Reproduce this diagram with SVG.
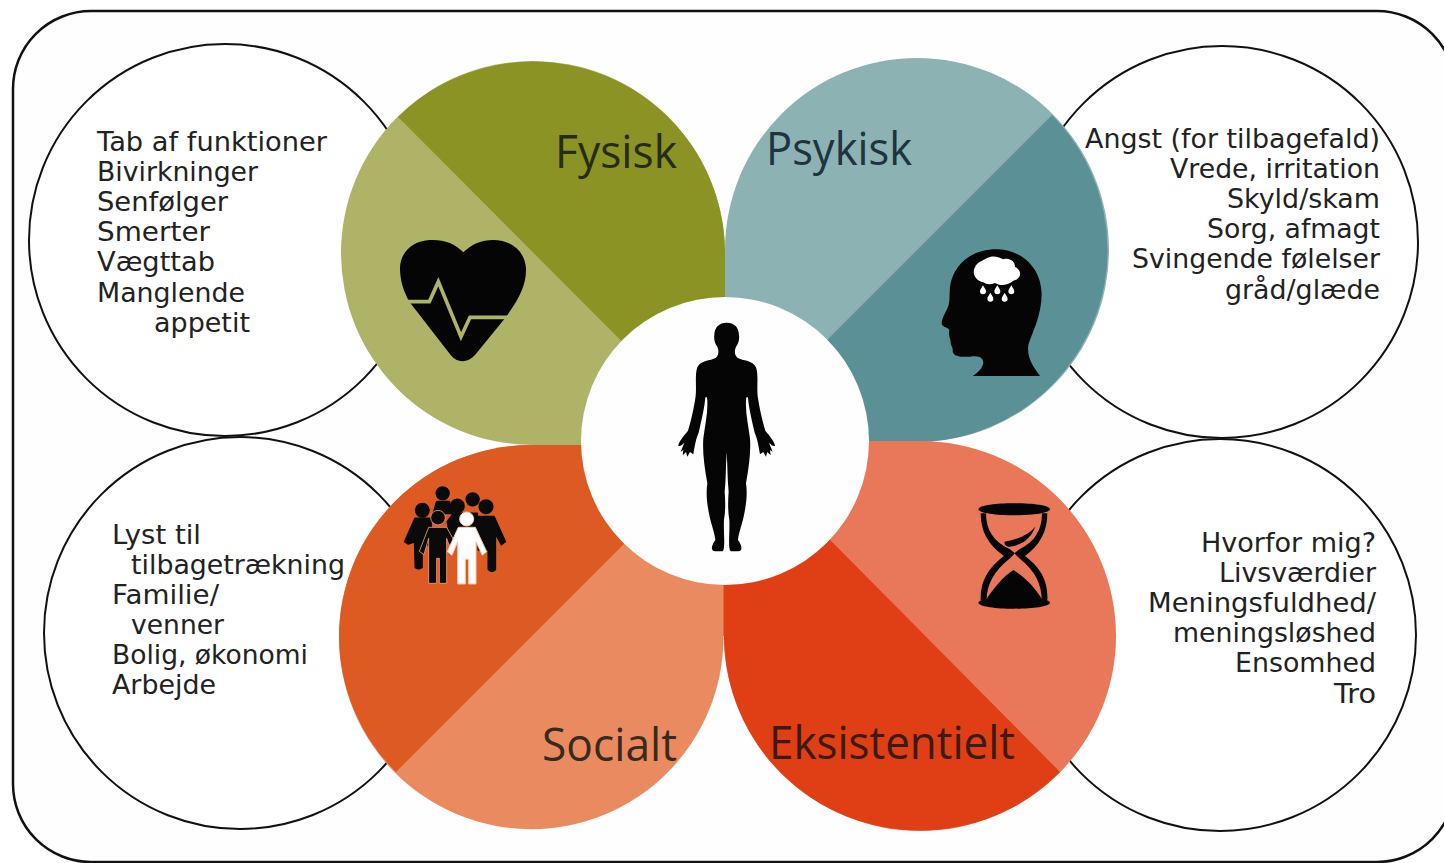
<svg xmlns="http://www.w3.org/2000/svg" xmlns:xlink="http://www.w3.org/1999/xlink" width="1444" height="863" viewBox="0 0 1444 863">
<style>
.t{font-family:"DejaVu Sans","Liberation Sans",sans-serif;font-size:27px;fill:#222}
.e{text-anchor:end}
.h{font-family:"Open Sans","Liberation Sans",sans-serif;font-size:45px}
.o{fill:#fff;stroke:#111;stroke-width:2}
</style>
<defs>
<path id="half" d="M201 38C176 38 164 52 163 75C161 88 165 102 172 110C177 122 177 135 168 143C150 153 122 150 112 172C104 195 110 230 107 258C101 300 92 335 84 362C74 375 55 395 55 408C62 410 68 402 73 398L62 425L70 420L68 436L78 426L82 440L90 426L100 433C104 410 108 385 116 368C126 325 134 290 136 262L141 262C146 300 135 345 130 385C127 425 133 470 142 520C138 545 140 575 146 605C152 640 165 670 166 690C155 705 150 722 165 724H188C197 715 190 665 192 630C197 600 196 570 194 545C198 510 197 470 200 430L201 430Z"/>
<path id="drop" d="M0 0c-6 10-9 14-9 18a9 9 0 0 0 18 0c0-4-3-8-9-18Z"/>
</defs>
<rect width="1444" height="863" fill="#fff"/>
<rect x="13" y="11" width="1442" height="851" rx="78" fill="#fefefe" stroke="#111" stroke-width="2.5"/>
<g id="connectors"></g>
<g id="circle-tl"><circle class="o" cx="225" cy="240" r="196"/>
<text class="t" x="97" y="151" textLength="230" lengthAdjust="spacingAndGlyphs">Tab af funktioner</text><text class="t" x="97" y="181" textLength="161" lengthAdjust="spacingAndGlyphs">Bivirkninger</text><text class="t" x="97" y="211" textLength="131" lengthAdjust="spacingAndGlyphs">Senfølger</text><text class="t" x="97" y="241" textLength="113" lengthAdjust="spacingAndGlyphs">Smerter</text><text class="t" x="97" y="271" textLength="118" lengthAdjust="spacingAndGlyphs">Vægttab</text><text class="t" x="97" y="302" textLength="148" lengthAdjust="spacingAndGlyphs">Manglende</text><text class="t" x="154" y="332" textLength="96" lengthAdjust="spacingAndGlyphs">appetit</text></g>
<g id="circle-tr"><circle class="o" cx="1222" cy="242" r="196"/>
<text class="t e" x="1380" y="148" textLength="295" lengthAdjust="spacingAndGlyphs">Angst (for tilbagefald)</text><text class="t e" x="1380" y="178" textLength="210" lengthAdjust="spacingAndGlyphs">Vrede, irritation</text><text class="t e" x="1380" y="208" textLength="153" lengthAdjust="spacingAndGlyphs">Skyld/skam</text><text class="t e" x="1380" y="238" textLength="173" lengthAdjust="spacingAndGlyphs">Sorg, afmagt</text><text class="t e" x="1380" y="268" textLength="248" lengthAdjust="spacingAndGlyphs">Svingende følelser</text><text class="t e" x="1380" y="299" textLength="155" lengthAdjust="spacingAndGlyphs">gråd/glæde</text></g>
<g id="circle-bl"><circle class="o" cx="240" cy="633" r="196"/>
<text class="t" x="112" y="544" textLength="89" lengthAdjust="spacingAndGlyphs">Lyst til</text><text class="t" x="131" y="574" textLength="214" lengthAdjust="spacingAndGlyphs">tilbagetrækning</text><text class="t" x="112" y="604" textLength="107" lengthAdjust="spacingAndGlyphs">Familie/</text><text class="t" x="131" y="634" textLength="93" lengthAdjust="spacingAndGlyphs">venner</text><text class="t" x="112" y="664" textLength="196" lengthAdjust="spacingAndGlyphs">Bolig, økonomi</text><text class="t" x="112" y="694" textLength="104" lengthAdjust="spacingAndGlyphs">Arbejde</text></g>
<g id="circle-br"><circle class="o" cx="1220" cy="635" r="196"/>
<text class="t e" x="1376" y="552" textLength="175" lengthAdjust="spacingAndGlyphs">Hvorfor mig?</text><text class="t e" x="1376" y="582" textLength="157" lengthAdjust="spacingAndGlyphs">Livsværdier</text><text class="t e" x="1376" y="612" textLength="228" lengthAdjust="spacingAndGlyphs">Meningsfuldhed/</text><text class="t e" x="1376" y="642" textLength="203" lengthAdjust="spacingAndGlyphs">meningsløshed</text><text class="t e" x="1376" y="672" textLength="141" lengthAdjust="spacingAndGlyphs">Ensomhed</text><text class="t e" x="1376" y="703" textLength="42" lengthAdjust="spacingAndGlyphs">Tro</text></g>

<g id="fysisk">
<path d="M725 445V252A192 192 0 1 0 533 445Z" fill="#aeb368"/>
<path d="M725 445V252A192 192 0 0 0 398 117Z" fill="#8b9325"/>
<text class="h" x="555" y="168" textLength="122" lengthAdjust="spacingAndGlyphs" fill="#272c18">Fysisk</text>
<g transform="translate(380 220) scale(.3333)"><path d="M250 97C225 70 190 58 150 60C95 62 58 100 60 150C62 190 72 215 88 245L212 405C232 430 262 430 285 405L375 295C415 240 440 195 438 145C435 95 395 60 340 60C305 60 275 72 250 97Z" fill="#050505"/>
<path d="M70 245H148L175 185L243 350L270 292H395" fill="none" stroke="#aeb368" stroke-width="11"/></g>
</g>
<g id="psykisk">
<path d="M725 442V250A192 192 0 1 1 917 442Z" fill="#8db2b4"/>
<path d="M725 442L1052 115A192 192 0 0 1 917 442Z" fill="#5a9096"/>
<text class="h" x="766" y="165" textLength="146" lengthAdjust="spacingAndGlyphs" fill="#1e3440">Psykisk</text>
<g transform="translate(920 230) scale(.3333)"><path d="M235 58C160 55 100 100 90 170C88 195 90 210 85 228C78 245 65 265 65 282C68 292 85 292 88 300C85 315 90 325 92 335C90 345 100 350 98 365C102 380 125 382 150 380C180 376 190 385 190 400C185 420 170 430 158 438H360C340 410 320 385 325 345C335 310 365 260 365 190C362 110 305 62 235 58Z" fill="#050505"/>
<path d="M190 157C165 152 155 127 165 112C172 95 190 92 200 85C222 73 240 85 250 88C270 82 285 95 285 110C305 120 308 145 280 152C260 168 240 168 225 159C212 164 200 164 190 157Z" fill="#fff"/>
<g fill="#fff"><use xlink:href="#drop" href="#drop" x="189" y="166"/><use xlink:href="#drop" href="#drop" x="232" y="166"/><use xlink:href="#drop" href="#drop" x="274" y="166"/><use xlink:href="#drop" href="#drop" x="211" y="188"/><use xlink:href="#drop" href="#drop" x="254" y="188"/></g></g>
</g>
<g id="eksistentielt">
<path d="M723 441H920A196 195 0 0 1 1116 636A196 195 0 0 1 724 636L723 636Z" fill="#e9775a"/>
<path d="M732 441L1060 772A196 195 0 0 1 724 636H722.500V441Z" fill="#e03e14"/>
<text class="h" x="769" y="759" textLength="246" lengthAdjust="spacingAndGlyphs" fill="#3a1c10">Eksistentielt</text>
<g transform="translate(960 490) scale(.3333)" fill="#050505">
<path d="M55 58C58 45 110 40 162 40S268 45 270 58C268 70 215 76 162 76S58 70 55 58Z"/>
<path d="M55 338C58 325 110 320 162 320S268 325 270 338C268 350 215 356 162 356S58 350 55 338Z"/>
<path d="M62 70C62 125 85 165 132 198C85 232 60 275 62 330H80C80 285 100 245 150 205L165 190L150 178C100 155 78 120 78 70ZM262 70C262 125 240 165 195 198C242 232 265 275 262 330H245C245 285 228 245 178 205L163 190L178 178C225 155 246 120 246 70Z"/>
<path d="M133 155C170 150 205 135 226 110C215 140 190 165 150 170C140 170 133 165 133 155Z"/>
<path d="M80 326C105 290 130 260 160 240C200 265 225 295 245 326Z"/>
</g>
</g>
<g id="socialt">
<path d="M723.500 445H531A192 192 0 0 0 339 637A192 192 0 0 0 723.500 637Z" fill="#e98a60"/>
<path d="M396 772L723 445H531A192 192 0 0 0 339 637A192 192 0 0 0 396 772Z" fill="#dd5a22"/>
<text class="h" x="542" y="761" textLength="135" lengthAdjust="spacingAndGlyphs" fill="#3a2a1e">Socialt</text>
<g transform="translate(390 470) scale(.3333)">
<g fill="#0a0a0a" stroke="#0a0a0a" stroke-width="5" stroke-linejoin="round"><circle cx="158" cy="70" r="19"/><circle cx="248" cy="88" r="19"/><circle cx="97" cy="121" r="20"/><circle cx="202" cy="108" r="20"/><circle cx="288" cy="110" r="20"/>
<path d="M130 130L140 95H178L188 130Z"/>
<path d="M172 155L190 130H262V200H180Z"/>
<path d="M75 145H122L128 225H96V292Q85 300 76 292L74 215L55 222L44 215Z"/>
<path d="M262 140H312L346 215L334 224L316 190V298Q305 310 295 298V240H265Z"/></g>
<path d="M116 172H170L194 215L177 226L170 205V340H148V265H140V340H116V205L102 254L88 244Z" fill="#0a0a0a" stroke="#f0a27c" stroke-width="2.5" stroke-linejoin="round"/>
<circle cx="144" cy="143" r="22" fill="#0a0a0a" stroke="#f0a27c" stroke-width="2.500"/>
<g fill="#fff" stroke="#f6c9b0" stroke-width="3" stroke-linejoin="round"><circle cx="230" cy="147" r="21"/>
<path d="M205 172H256L290 245L277 256L258 215V342H236V268H226V342H203V215L186 256L172 245Z"/></g>
</g>
</g>
<g id="body">
<circle cx="725" cy="441" r="144" fill="#fefefe"/>
<g transform="translate(660 310) scale(.3333)" fill="#050505"><use xlink:href="#half" href="#half"/><use xlink:href="#half" href="#half" transform="translate(400 0) scale(-1 1)"/></g>
</g>
</svg>
